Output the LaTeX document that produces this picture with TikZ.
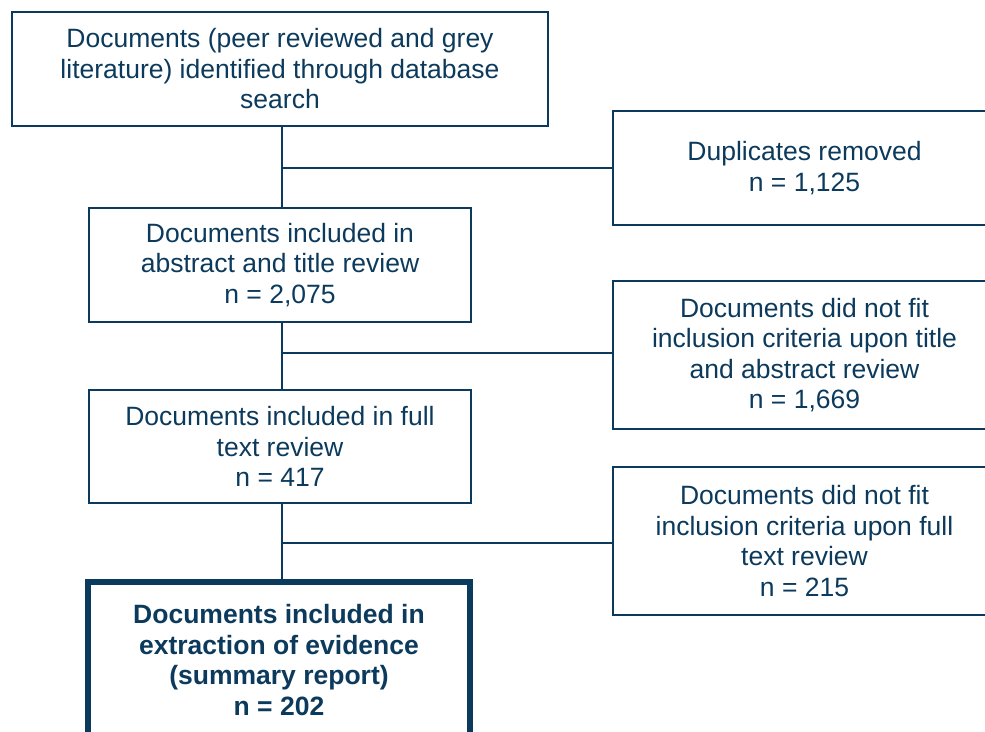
\documentclass[tikz,border=0pt]{standalone}
\usepackage{fontspec}
\setmainfont{Liberation Sans}
\definecolor{navy}{RGB}{12,58,92}
\begin{document}
\begin{tikzpicture}[x=1pt,y=-1pt,
  box/.style={draw=navy, line width=2.5pt, inner sep=0pt, align=center,
    text=navy, font=\fontsize{26.5}{30.5}\selectfont,
    execute at begin node={\rule{0pt}{29pt}}},
  thickbox/.style={box, line width=6pt, font=\fontsize{26.5}{30.5}\selectfont\bfseries},
  link/.style={draw=navy, line width=2.5pt}]
\useasboundingbox (0,0) rectangle (985,731);
\clip (0,0) rectangle (985,731);
\node[box, minimum width=536pt, minimum height=114pt] (id) at (280,69)
  {Documents (peer reviewed and grey\\literature) identified through database\\search};
\node[box, minimum width=383pt, minimum height=114pt] (dup) at (804.5,168)
  {Duplicates removed\\n = 1,125};
\node[box, minimum width=382pt, minimum height=114pt] (abs) at (280,265)
  {Documents included in\\abstract and title review\\n = 2,075};
\node[box, minimum width=383pt, minimum height=148pt] (ex1) at (804.5,355)
  {Documents did not fit\\inclusion criteria upon title\\and abstract review\\n = 1,669};
\node[box, minimum width=382pt, minimum height=113pt] (full) at (280,446.5)
  {Documents included in full\\text review\\n = 417};
\node[box, minimum width=383pt, minimum height=148pt] (ex2) at (804.5,541)
  {Documents did not fit\\inclusion criteria upon full\\text review\\n = 215};
\node[thickbox, minimum width=382pt, minimum height=156pt] (ext) at (279,660)
  {Documents included in\\extraction of evidence\\(summary report)\\n = 202};
\coordinate (j1) at (282,168);
\coordinate (j2) at (282,353);
\coordinate (j3) at (282,543);
\draw[link] (id.south -| j1) -- (abs.north -| j1);
\draw[link] (j1) -- (dup.west |- j1);
\draw[link] (abs.south -| j2) -- (full.north -| j2);
\draw[link] (j2) -- (ex1.west |- j2);
\draw[link] (full.south -| j3) -- (ext.north -| j3);
\draw[link] (j3) -- (ex2.west |- j3);
\end{tikzpicture}
\end{document}
